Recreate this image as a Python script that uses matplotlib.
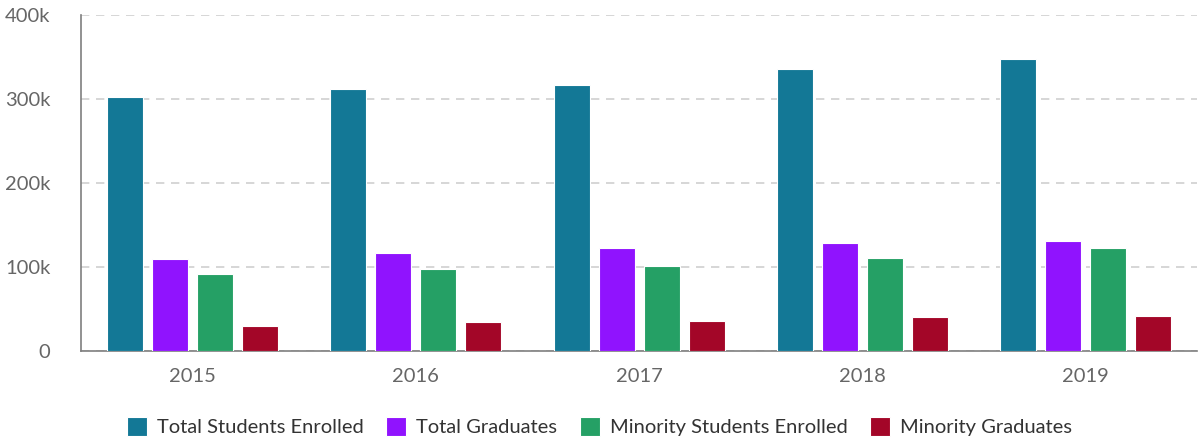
import matplotlib
matplotlib.use("Agg")
import matplotlib.pyplot as plt
import numpy as np
from matplotlib.ticker import FuncFormatter

years = ["2015", "2016", "2017", "2018", "2019"]
series_names = ["Total Students Enrolled", "Total Graduates",
                "Minority Students Enrolled", "Minority Graduates"]
total_enrolled = [302000, 312000, 317000, 336000, 347000]
total_graduates = [109000, 117000, 122000, 128000, 131000]
minority_enrolled = [92000, 98000, 101000, 110000, 122000]
minority_graduates = [30000, 34000, 36000, 40000, 42000]
colors = ["#137896", "#9013FE", "#25A065", "#A30628"]

plt.rcParams['font.family'] = ['Lato', 'DejaVu Sans']

fig = plt.figure(figsize=(11.99, 4.37), dpi=100)
ax = fig.add_axes([0.0676, 0.197, 0.931, 0.769])

data = [total_enrolled, total_graduates, minority_enrolled, minority_graduates]
x = np.arange(len(years))
slot = 0.2016
width = 0.161
for i, (vals, name, c) in enumerate(zip(data, series_names, colors)):
    offs = (i - 1.5) * slot
    ax.bar(x + offs, vals, width, color=c, label=name,
           edgecolor="#ffffff", linewidth=0.8, zorder=3)

ax.set_xlim(-0.5, len(years) - 0.5)
ax.set_ylim(0, 400000)
ax.set_yticks([0, 100000, 200000, 300000, 400000])
ax.yaxis.set_major_formatter(FuncFormatter(lambda v, p: "0" if v == 0 else f"{int(v/1000)}k"))
ax.set_xticks(x)
ax.set_xticklabels(years)

for s in ["top", "right"]:
    ax.spines[s].set_visible(False)
for s in ["left", "bottom"]:
    ax.spines[s].set_color("#7f7f7f")
    ax.spines[s].set_linewidth(1.2)

ax.yaxis.grid(True, linestyle=(0, (5, 4)), color="#d0d0d0", linewidth=1.2, zorder=0)
ax.set_axisbelow(True)
ax.tick_params(axis="both", length=0, labelsize=14.5, colors="#666666", labelcolor="#666666")
ax.tick_params(axis="x", pad=12)
ax.tick_params(axis="y", pad=22)

leg = fig.legend(loc="center", bbox_to_anchor=(0.5, 0.023), ncol=4, frameon=False,
                 fontsize=14.5, handlelength=1.0, handleheight=1.0, handletextpad=0.5,
                 columnspacing=1.1, borderpad=0)
for t in leg.get_texts():
    t.set_color("#333333")

fig.savefig("out.png", dpi=100)
